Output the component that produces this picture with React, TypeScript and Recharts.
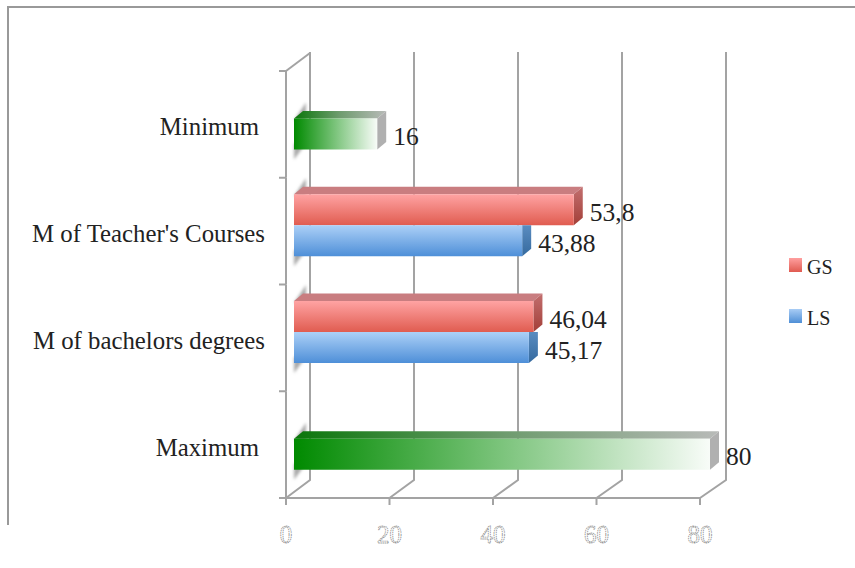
import { Bar, BarChart, CartesianGrid, LabelList, Legend, XAxis, YAxis } from "recharts"

const categories = ["Minimum", "M of Teacher's Courses", "M of bachelors degrees", "Maximum"]
const gsValues = [null, 53.8, 46.04, null]
const lsValues = [16, 43.88, 45.17, 80]
const xTicks = [0, 20, 40, 60, 80]

const data = categories.map((name, i) => ({ name, GS: gsValues[i], LS: lsValues[i] }))

const WIDTH = 855
const HEIGHT = 568
const PLOT_LEFT = 294
const PLOT_RIGHT = 710
const PLOT_TOP = 71
const PLOT_BOTTOM = 498
const HALF_BAND = (PLOT_BOTTOM - PLOT_TOP) / categories.length / 2
// the floor of the 3D box sits a little left of the bars, the back wall right of them
const FRONT_LEFT = 286
const FRONT_RIGHT = 700
const WALL_DX = 16
const WALL_DY = 18
const BAR_SHIFT = -5.5
const DEPTH_X = 9
const DEPTH_Y = 7.5
const AXIS_COLOR = "#a3a3a3"
const FONT = "'Liberation Serif', serif"

const labelNudge: Record<string, number> = { Minimum: -6, Maximum: -6 }

const toFront = (x: number) =>
  FRONT_LEFT + ((x - PLOT_LEFT) * (FRONT_RIGHT - FRONT_LEFT)) / (PLOT_RIGHT - PLOT_LEFT)

// drawn by the grid so it stays behind the bars
function WallLine({ x1 }: any) {
  const wall = x1 + WALL_DX
  return (
    <polyline
      points={`${toFront(x1)},${PLOT_BOTTOM} ${wall},${PLOT_BOTTOM - WALL_DY} ${wall},${PLOT_TOP - WALL_DY - 1}`}
      fill="none"
      stroke={AXIS_COLOR}
      strokeWidth={2}
    />
  )
}

function FloorTick({ x, y, payload }: any) {
  const fx = toFront(x)
  const step = (FRONT_RIGHT - FRONT_LEFT) / (xTicks.length - 1)
  return (
    <g>
      {payload.value < 80 && (
        <line x1={fx} y1={y} x2={fx + step} y2={y} stroke={AXIS_COLOR} strokeWidth={2} />
      )}
      <line x1={fx} y1={y} x2={fx} y2={y + 7} stroke={AXIS_COLOR} strokeWidth={2} />
      <text
        x={fx}
        y={y + 45}
        textAnchor="middle"
        fontFamily={FONT}
        fontSize={25}
        fill="#fff"
        stroke="#8f8f8f"
        strokeWidth={0.8}
        strokeDasharray="1.4 0.7"
      >
        {payload.value}
      </text>
    </g>
  )
}

function CategoryTick({ y, payload, index }: any) {
  const top = y - HALF_BAND
  const bottom = y + HALF_BAND
  return (
    <g>
      <line x1={FRONT_LEFT} y1={top} x2={FRONT_LEFT} y2={bottom} stroke={AXIS_COLOR} strokeWidth={2} />
      <line x1={FRONT_LEFT - 7} y1={top} x2={FRONT_LEFT} y2={top} stroke={AXIS_COLOR} strokeWidth={2} />
      {index === categories.length - 1 && (
        <line x1={FRONT_LEFT - 7} y1={bottom} x2={FRONT_LEFT} y2={bottom} stroke={AXIS_COLOR} strokeWidth={2} />
      )}
      {index === 0 && (
        <line
          x1={FRONT_LEFT}
          y1={top}
          x2={PLOT_LEFT + WALL_DX}
          y2={top - WALL_DY}
          stroke={AXIS_COLOR}
          strokeWidth={2}
        />
      )}
      <text
        x={265 + (labelNudge[payload.value] || 0)}
        y={y + 11}
        textAnchor="end"
        fontFamily={FONT}
        fontSize={24.8}
        fill="#222"
      >
        {payload.value}
      </text>
    </g>
  )
}

function Box3D({ x, y, width, height, payload, series }: any) {
  const green = payload.GS == null
  const dy = y + BAR_SHIFT
  const right = x + width
  const bottom = dy + height
  const front = green ? "url(#greenFront)" : series === "GS" ? "url(#redFront)" : "url(#blueFront)"
  const side = green ? "#b0b0b0" : series === "GS" ? "url(#redSide)" : "url(#blueSide)"
  const showTop = series === "GS" || green
  return (
    <g>
      {showTop && (
        <polygon points={`${x},${dy + 2} ${x + 12},${dy - 16} ${x + 12},${dy + 2}`} fill="#aaaaaa" filter="url(#softEdge)" />
      )}
      {series === "LS" && (
        <polygon points={`${x},${bottom - 6} ${x + 12},${bottom - 6} ${x},${bottom + 10}`} fill="#aaaaaa" filter="url(#softEdge)" />
      )}
      {showTop && (
        <polygon
          points={`${x},${dy} ${x + DEPTH_X},${dy - DEPTH_Y} ${right + DEPTH_X},${dy - DEPTH_Y} ${right},${dy}`}
          fill={green ? "url(#greenTop)" : "#c97d80"}
        />
      )}
      <polygon
        points={`${right},${dy} ${right + DEPTH_X},${showTop ? dy - DEPTH_Y : dy} ${right + DEPTH_X},${bottom - DEPTH_Y} ${right},${bottom}`}
        fill={side}
      />
      <rect x={x} y={dy} width={width} height={height} fill={front} />
    </g>
  )
}

function ValueLabel({ x, y, width, height, value }: any) {
  if (value == null) return null
  return (
    <text
      x={x + width + 16}
      y={y + BAR_SHIFT + height / 2 + 11}
      fontFamily={FONT}
      fontSize={25.5}
      fill="#222"
    >
      {String(value).replace(".", ",")}
    </text>
  )
}

const legendSwatch: Record<string, string> = {
  GS: "linear-gradient(#ff9f9f, #e05a50)",
  LS: "linear-gradient(#a8ccf5, #4f8fd6)",
}

function LegendBox({ payload }: any) {
  return (
    <div style={{ position: "absolute", left: 789, top: 249, fontFamily: FONT, fontSize: 20, color: "#222" }}>
      {(payload || []).map((entry: any) => (
        <div key={entry.value} style={{ display: "flex", alignItems: "center", height: 37, marginBottom: 14 }}>
          <span style={{ width: 13, height: 14, marginRight: 5, marginTop: -6, background: legendSwatch[entry.value] }} />
          {entry.value}
        </div>
      ))}
    </div>
  )
}

export default function App() {
  return (
    <div style={{ position: "absolute", left: 0, top: 0, width: WIDTH, height: HEIGHT, background: "#fff" }}>
      <div
        style={{
          position: "absolute",
          left: 7,
          top: 6,
          width: 848,
          height: 519,
          boxSizing: "border-box",
          borderTop: "2px solid #999",
          borderLeft: "2px solid #999",
        }}
      />
      <BarChart
        width={WIDTH}
        height={HEIGHT}
        data={data}
        layout="vertical"
        barSize={31}
        barGap={0}
        margin={{ top: PLOT_TOP, right: WIDTH - PLOT_RIGHT, bottom: 0, left: 0 }}
        style={{ position: "absolute", left: 0, top: 0 }}
      >
        <defs>
          <linearGradient id="greenFront" x1="0" y1="0" x2="1" y2="0">
            <stop offset="0" stopColor="#008a00" />
            <stop offset="0.5" stopColor="#7cc47c" />
            <stop offset="1" stopColor="#f8fcf8" />
          </linearGradient>
          <linearGradient id="greenTop" x1="0" y1="0" x2="1" y2="0">
            <stop offset="0" stopColor="#0a760a" />
            <stop offset="0.5" stopColor="#6f9c6f" />
            <stop offset="1" stopColor="#b8bab8" />
          </linearGradient>
          <linearGradient id="redFront" x1="0" y1="0" x2="0" y2="1">
            <stop offset="0" stopColor="#ffa3a3" />
            <stop offset="1" stopColor="#e05c50" />
          </linearGradient>
          <linearGradient id="blueFront" x1="0" y1="0" x2="0" y2="1">
            <stop offset="0" stopColor="#acd0f7" />
            <stop offset="1" stopColor="#4e8fd8" />
          </linearGradient>
          <linearGradient id="redSide" x1="0" y1="0" x2="0" y2="1">
            <stop offset="0" stopColor="#c26f6f" />
            <stop offset="1" stopColor="#a33f38" />
          </linearGradient>
          <linearGradient id="blueSide" x1="0" y1="0" x2="0" y2="1">
            <stop offset="0" stopColor="#5a8cc0" />
            <stop offset="1" stopColor="#356a9f" />
          </linearGradient>
          <filter id="softEdge" x="-50%" y="-50%" width="200%" height="200%">
            <feGaussianBlur stdDeviation="1.5" />
          </filter>
        </defs>
        <CartesianGrid horizontal={false} vertical={<WallLine />} syncWithTicks />
        <XAxis
          type="number"
          domain={[0, 80]}
          ticks={xTicks}
          height={HEIGHT - PLOT_BOTTOM}
          axisLine={false}
          tickLine={false}
          tickSize={0}
          tickMargin={0}
          tick={<FloorTick />}
          interval={0}
        />
        <YAxis
          type="category"
          dataKey="name"
          width={PLOT_LEFT}
          axisLine={false}
          tickLine={false}
          tick={<CategoryTick />}
          interval={0}
        />
        <Legend
          content={<LegendBox />}
          verticalAlign="top"
          align="right"
          layout="vertical"
          wrapperStyle={{ left: 0, top: 0, right: "auto", width: 0, height: 0 }}
        />
        <Bar dataKey="GS" isAnimationActive={false} shape={<Box3D series="GS" />}>
          <LabelList dataKey="GS" content={<ValueLabel />} />
        </Bar>
        <Bar dataKey="LS" isAnimationActive={false} shape={<Box3D series="LS" />}>
          <LabelList dataKey="LS" content={<ValueLabel />} />
        </Bar>
      </BarChart>
    </div>
  )
}
